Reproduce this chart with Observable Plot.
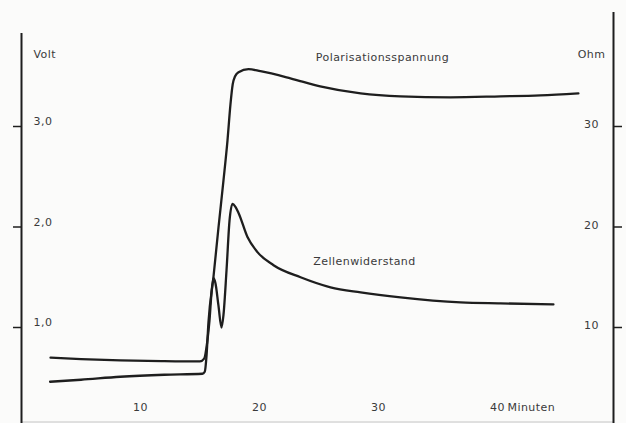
<!DOCTYPE html>
<html><head><meta charset="utf-8">
<script src="https://cdn.jsdelivr.net/npm/d3@7"></script>
<script src="https://cdn.jsdelivr.net/npm/@observablehq/plot@0.6"></script>
<style>html,body{margin:0;padding:0;background:#fbfbfa;} svg{display:block} svg text{letter-spacing:0.45px}</style>
</head><body><div id="chart"></div>
<script>
// Polarisationsspannung (Volt, left axis)
const polMinutes = [2.4, 5.0, 8.3, 12.0, 15.2, 15.4, 15.55, 15.71, 16.13, 16.55, 16.97, 17.31, 17.56, 17.75, 17.95, 18.24, 19.08, 20.08, 22.6, 25.1, 28.5, 31.85, 36.05, 40.25, 43.6, 46.8];
const polVolts   = [0.46, 0.48, 0.51, 0.53, 0.54, 0.56, 0.72, 1.05, 1.50, 1.99, 2.46, 2.86, 3.22, 3.42, 3.50, 3.54, 3.57, 3.55, 3.48, 3.40, 3.33, 3.30, 3.29, 3.30, 3.31, 3.33];
// Zellenwiderstand (Ohm, right axis)
const zelMinutes = [2.44, 5.0, 8.3, 12.0, 15.0, 15.35, 15.6, 15.8, 15.97, 16.13, 16.3, 16.55, 16.81, 16.97, 17.23, 17.48, 17.73, 17.98, 18.24, 18.99, 19.83, 21.18, 23.45, 25.97, 28.5, 31.85, 36.9, 40.25, 44.7];
const zelOhms    = [7.0, 6.85, 6.72, 6.65, 6.62, 6.9, 8.5, 10.7, 13.5, 14.9, 14.4, 12.2, 10.0, 11.2, 15.7, 20.6, 22.3, 22.0, 21.4, 19.0, 17.5, 16.2, 15.0, 14.0, 13.5, 13.0, 12.5, 12.4, 12.3];

const voltTicks = [1, 2, 3];
const ohmTicks = [10, 20, 30];
const minuteTicks = [10, 20, 30, 40];
const xMax = 49.75;          // right axis position (minutes)
const leftAxisTop = 3.925;   // volts
const rightAxisTop = 4.134;  // volts

const pol = polMinutes.map((t, i) => ({t, v: polVolts[i]}));
const zel = zelMinutes.map((t, i) => ({t, v: zelOhms[i] / 10}));

const ink = "#1e1e1e";
const textInk = "#3a3a3a";
const font = "'DejaVu Sans', 'Noto Sans', sans-serif";

const chart = Plot.plot({
  width: 626, height: 423, margin: 0,
  style: {background: "transparent", fontFamily: font, fontSize: "11px"},
  x: {domain: [0, xMax], range: [21, 613], axis: null},
  y: {domain: [0, 4.25], range: [427.5, 0.375], axis: null},
  marks: [
    // faint bottom edge
    Plot.ruleY([0], {x1: 0, x2: xMax, dy: -6, stroke: "#c4c4c4", strokeWidth: 1}),
    // axes
    Plot.ruleX([0], {y1: leftAxisTop, y2: -0.1, stroke: ink, strokeWidth: 2}),
    Plot.ruleX([xMax], {y1: rightAxisTop, y2: -0.1, stroke: ink, strokeWidth: 2}),
    Plot.ruleY(voltTicks, {x1: 0, x2: 0, insetLeft: -8, stroke: ink, strokeWidth: 1.5}),
    Plot.ruleY(ohmTicks, {y: d => d / 10, x1: xMax, x2: xMax, insetRight: -9, stroke: ink, strokeWidth: 1.5}),
    // tick labels
    Plot.text(voltTicks, {x: 0, y: d => d, dx: 12, dy: -5, textAnchor: "start", fill: textInk,
      text: d => d.toFixed(1).replace(".", ",")}),
    Plot.text(ohmTicks, {x: xMax, y: d => d / 10, dx: -22, dy: -2, textAnchor: "middle", fill: textInk,
      text: d => String(d)}),
    Plot.text(minuteTicks, {x: d => d, frameAnchor: "bottom", dy: -13, fill: textInk, text: d => String(d)}),
    Plot.text(["Minuten"], {x: 40, frameAnchor: "bottom", dy: -13, dx: 10, textAnchor: "start", fill: textInk}),
    // axis titles
    Plot.text(["Volt"], {frameAnchor: "top-left", dx: 33, dy: 50, textAnchor: "start", fill: textInk}),
    Plot.text(["Ohm"], {frameAnchor: "top-right", dx: -35, dy: 50, textAnchor: "middle", fill: textInk}),
    // curves
    Plot.line(pol, {x: "t", y: "v", curve: "monotone-x", stroke: ink, strokeWidth: 2.3}),
    Plot.line(zel, {x: "t", y: "v", curve: "monotone-x", stroke: ink, strokeWidth: 2.3}),
    // curve labels
    Plot.text(["Polarisationsspannung"], {frameAnchor: "top", dx: 69, dy: 53, fill: textInk}),
    Plot.text(["Zellenwiderstand"], {frameAnchor: "top", dx: 51, dy: 257, fill: textInk})
  ]
});
document.getElementById("chart").appendChild(chart);
</script>
</body></html>
